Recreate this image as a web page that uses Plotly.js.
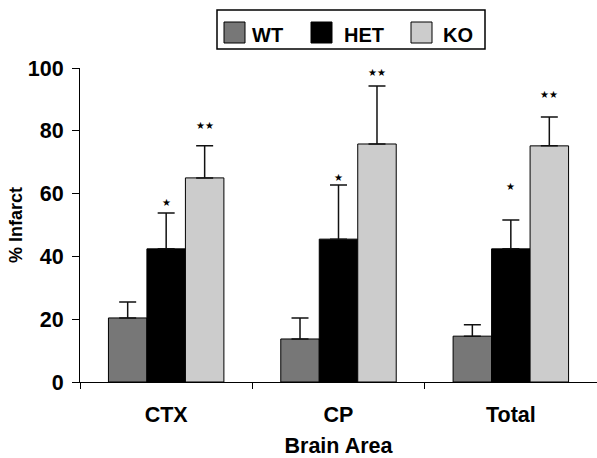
<!DOCTYPE html>
<html><head><meta charset="utf-8">
<script src="https://cdn.plot.ly/plotly-3.0.1.min.js"></script>
<style>html,body{margin:0;padding:0;background:#fff}</style>
</head><body>
<div id="chart" style="width:597px;height:458px"></div>
<script>
const categories = ['CTX', 'CP', 'Total'];
const seriesNames = ['WT', 'HET', 'KO'];
const wtValues = [20.4, 13.7, 14.6];
const wtErrors = [5.1, 6.7, 3.6];
const hetValues = [42.4, 45.5, 42.4];
const hetErrors = [11.4, 17.2, 9.2];
const koValues = [65.0, 75.8, 75.2];
const koErrors = [10.2, 18.5, 9.2];
const hetStarY = [57.3, 65.0, 62.4];
const koStarY = [81.8, 98.7, 91.7];
const hetStarText = '★';
const koStarText = '★★';

const colors = ['#777777', '#000000', '#cccccc'];
const values = [wtValues, hetValues, koValues];
const errors = [wtErrors, hetErrors, koErrors];

const FONT = 'Liberation Sans, Arial, Helvetica, sans-serif';
const bargap = 0.33;

const traces = seriesNames.map((name, i) => ({
  type: 'bar', name: name, x: categories, y: values[i],
  marker: {color: colors[i], line: {color: '#000', width: 1}},
  error_y: {type: 'data', array: errors[i], arrayminus: errors[i].map(() => 0), symmetric: false,
            color: '#111', thickness: 1.5, width: 8.5},
  showlegend: false, hoverinfo: 'skip'
}));

// layout geometry helpers
const W = 597, H = 458, ML = 80, MR = 0, MT = 68, MB = 76;
const PW = W - ML - MR, PH = H - MT - MB;
const px = x => (x - ML) / PW;
const py = y => (H - MB - y) / PH;

const barW = (1 - bargap) / 3;
const annotations = [];
categories.forEach((c, k) => {
  annotations.push({x: k, y: hetStarY[k], xref: 'x', yref: 'y', text: hetStarText, showarrow: false,
    font: {family: 'DejaVu Sans', size: 10, color: '#000'}, yanchor: 'middle'});
  annotations.push({x: k + barW, y: koStarY[k], xref: 'x', yref: 'y', text: koStarText, showarrow: false,
    font: {family: 'DejaVu Sans', size: 10, color: '#000'}, yanchor: 'middle'});
});

// custom legend
const shapes = [{type: 'rect', xref: 'paper', yref: 'paper', x0: px(217), x1: px(485), y0: py(49), y1: py(10),
  line: {color: '#000', width: 1.5}, fillcolor: '#fff'}];
const legSq = [224, 311, 411];
const legTx = [250, 342, 441];
seriesNames.forEach((n, i) => {
  shapes.push({type: 'rect', xref: 'paper', yref: 'paper', x0: px(legSq[i]), x1: px(legSq[i] + 21),
    y0: py(43), y1: py(22), line: {color: '#000', width: 1}, fillcolor: colors[i]});
  annotations.push({xref: 'paper', yref: 'paper', x: px(legTx[i]), y: py(35), xanchor: 'left', yanchor: 'middle',
    text: n, showarrow: false, font: {family: FONT, size: 20, weight: 'bold', color: '#000'}});
});

const layout = {
  width: W, height: H,
  margin: {l: ML, r: MR, t: MT, b: MB, pad: 0},
  paper_bgcolor: '#fff', plot_bgcolor: '#fff',
  barmode: 'group', bargap: bargap, bargroupgap: 0,
  font: {family: FONT, color: '#000'},
  xaxis: {
    type: 'category', showline: true, linecolor: '#000', linewidth: 1,
    ticks: 'outside', tickson: 'boundaries', ticklen: 6, tickcolor: '#000', tickwidth: 1,
    tickfont: {family: FONT, size: 21.5, weight: 'bold', color: '#000'},
    ticklabelstandoff: 13,
    showgrid: false, zeroline: false,
    title: {text: 'Brain Area', font: {family: FONT, size: 21.5, weight: 'bold', color: '#000'}, standoff: 19},
    automargin: false, fixedrange: true
  },
  yaxis: {
    range: [0, 100], dtick: 20, showline: true, linecolor: '#000', linewidth: 1,
    ticks: 'outside', ticklen: 7, tickcolor: '#000', tickwidth: 1,
    tickfont: {family: FONT, size: 21.5, weight: 'bold', color: '#000'},
    ticklabelstandoff: 4,
    showgrid: false, zeroline: false,
    title: {text: '% Infarct', font: {family: FONT, size: 18, weight: 'bold', color: '#000'}, standoff: 0},
    automargin: false, fixedrange: true
  },
  shapes: shapes,
  annotations: annotations
};

Plotly.newPlot('chart', traces, layout, {displayModeBar: false, staticPlot: true});
</script>
</body></html>
